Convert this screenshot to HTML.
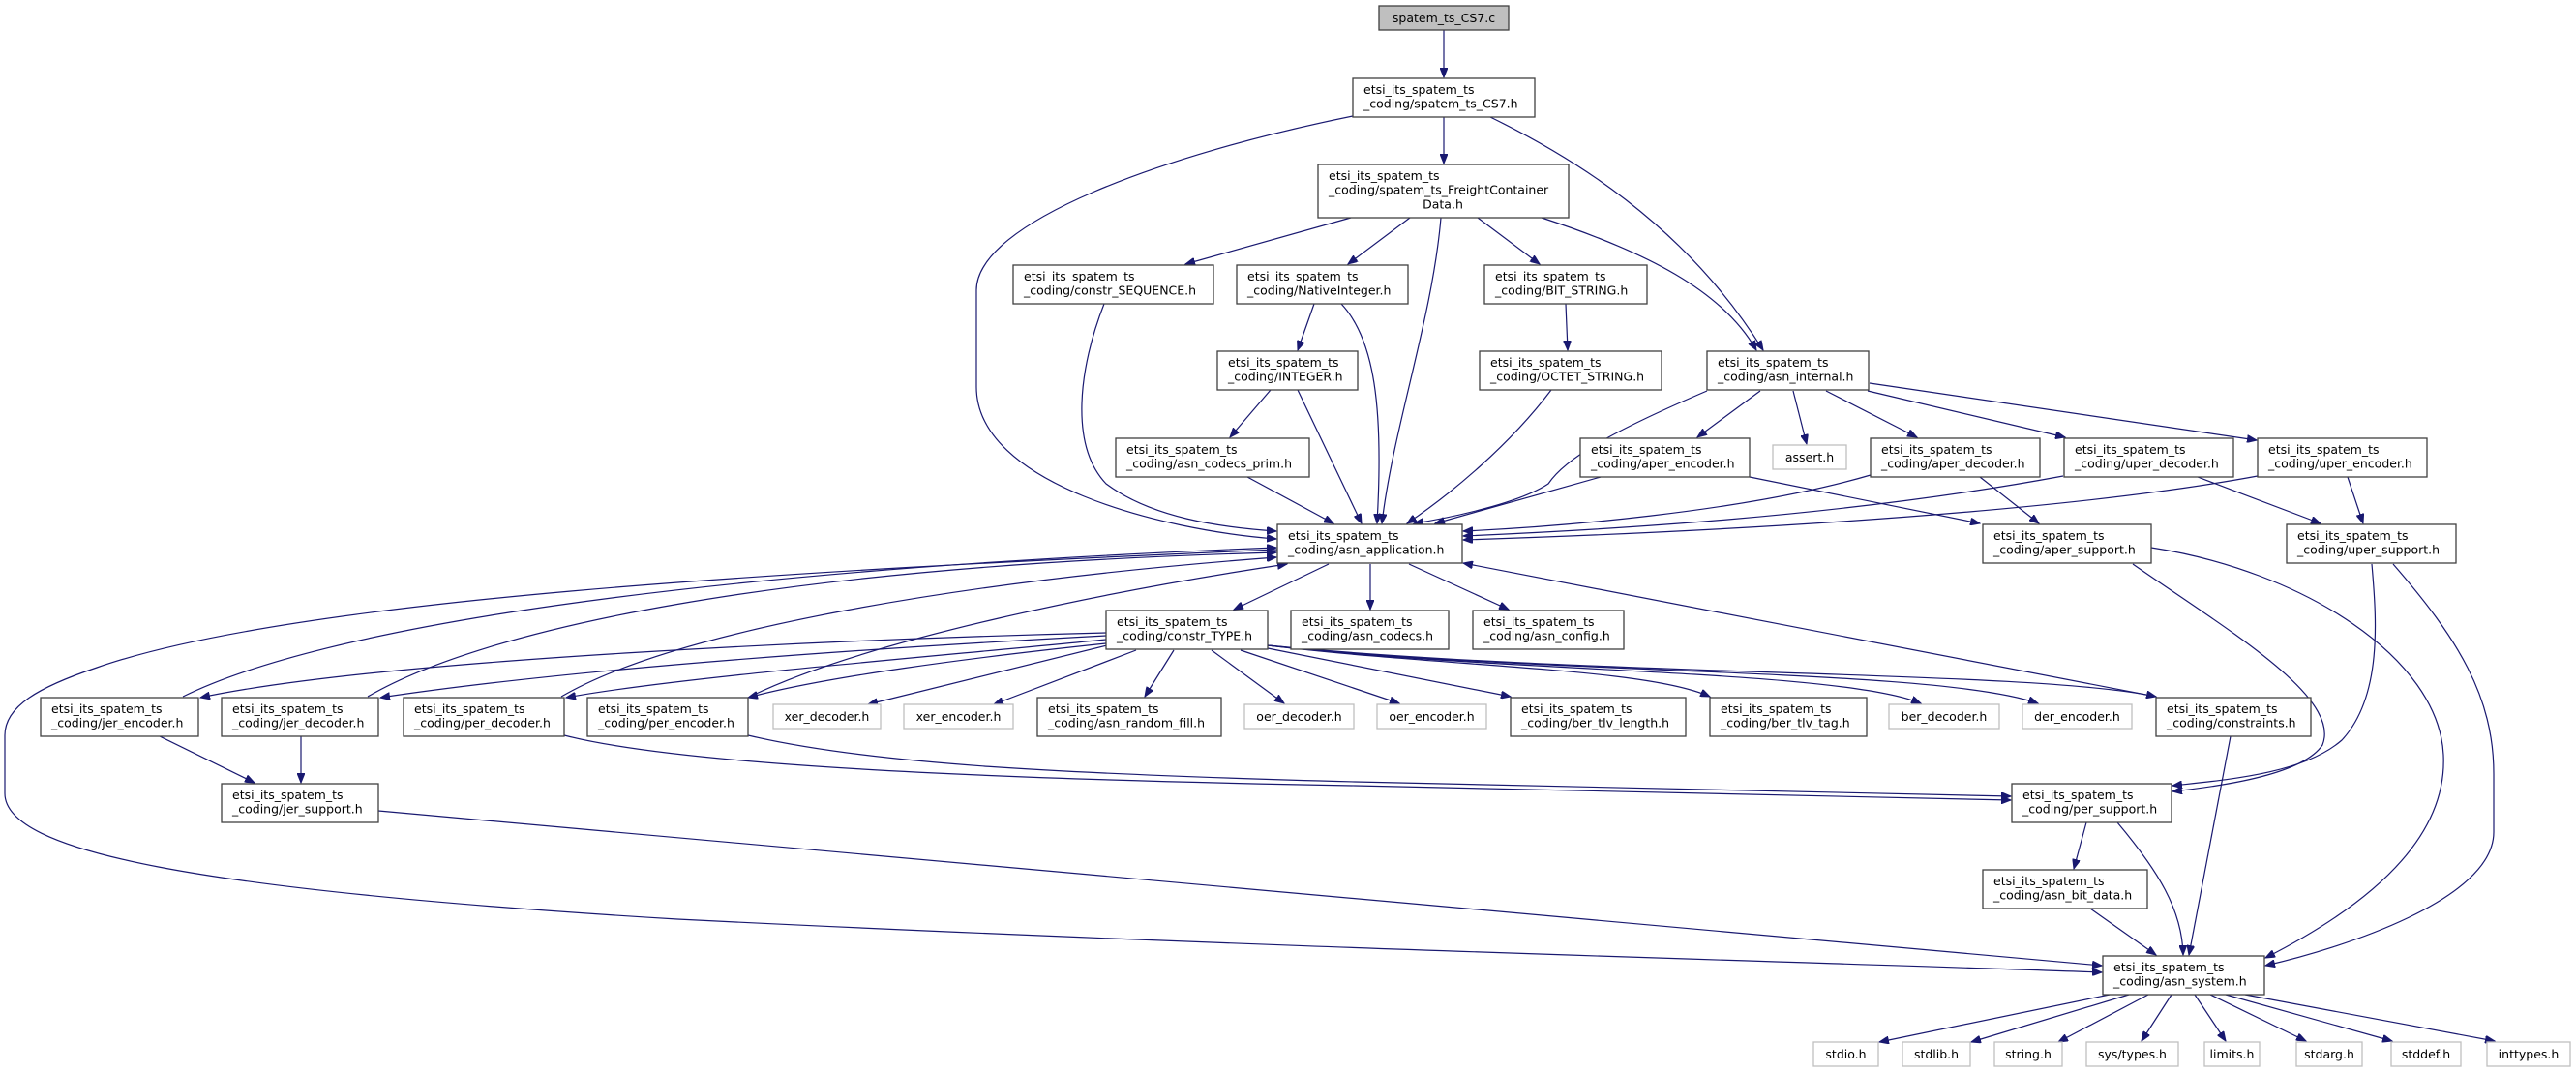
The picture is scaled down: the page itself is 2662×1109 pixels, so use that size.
<!DOCTYPE html>
<html><head><meta charset="utf-8">
<style>
html,body{margin:0;padding:0;background:#fff;}
svg{display:block;}
text{font-family:"DejaVu Sans","Liberation Sans",sans-serif;font-size:12.5px;fill:#000;}
.n{fill:#fff;stroke:#404040;stroke-width:1.3;}
.g{fill:#fff;stroke:#bfbfbf;stroke-width:1.3;}
.e{fill:none;stroke:#191970;stroke-width:1.2;marker-end:url(#a);}
</style></head>
<body>
<svg width="2662" height="1109" viewBox="0 0 2662 1109" xmlns="http://www.w3.org/2000/svg">
<defs>
<marker id="a" markerUnits="userSpaceOnUse" markerWidth="11" markerHeight="8" refX="10" refY="4" orient="auto">
<path d="M0,0 L10,4 L0,8 z" fill="#191970" stroke="#191970"/>
</marker>
</defs>

<!-- edges -->
<path class="e" d="M1492,31 L1492,80"/>
<path class="e" d="M1492,121 L1492,169"/>
<path class="e" d="M1398,120 C1200,160 1009,230 1009,300 L1009,400 C1009,500 1200,548 1319,557"/>
<path class="e" d="M1540,121 C1620,160 1740,230 1822,362"/>
<path class="e" d="M1396,225 L1225,273"/>
<path class="e" d="M1457,225 L1393,273"/>
<path class="e" d="M1489,225 C1480,330 1440,440 1428,541"/>
<path class="e" d="M1527,225 L1591,273"/>
<path class="e" d="M1593,225 C1700,260 1780,300 1815,362"/>
<path class="e" d="M1141,314 C1115,380 1105,460 1143,500 C1190,535 1260,545 1319,549"/>
<path class="e" d="M1358,314 L1341,362"/>
<path class="e" d="M1386,314 C1420,350 1430,420 1423,541"/>
<path class="e" d="M1313,403 L1271,452"/>
<path class="e" d="M1341,403 L1407,541"/>
<path class="e" d="M1289,493 L1378,541"/>
<path class="e" d="M1618,314 L1620,362"/>
<path class="e" d="M1603,403 C1560,460 1500,510 1454,541"/>
<path class="e" d="M1764,404 C1680,440 1620,470 1600,500 C1570,520 1500,535 1461,541"/>
<path class="e" d="M1819,404 L1754,452"/>
<path class="e" d="M1853,404 L1867,459"/>
<path class="e" d="M1887,404 L1981,452"/>
<path class="e" d="M1930,404 L2134,452"/>
<path class="e" d="M1932,396 L2332,455"/>
<path class="e" d="M1654,493 L1483,541"/>
<path class="e" d="M1808,493 L2046,541"/>
<path class="e" d="M1933,491 C1800,530 1600,545 1512,549"/>
<path class="e" d="M2046,493 L2107,541"/>
<path class="e" d="M2132,492 C1900,535 1650,548 1512,554"/>
<path class="e" d="M2271,493 L2398,541"/>
<path class="e" d="M2333,492 C2100,535 1700,552 1512,558"/>
<path class="e" d="M2426,493 L2442,541"/>
<path class="e" d="M1373,583 L1275,630"/>
<path class="e" d="M1416,583 L1416,630"/>
<path class="e" d="M1456,583 L1559,630"/>
<path class="e" d="M2204,583 C2300,650 2420,720 2400,770 C2380,800 2300,812 2245,818"/>
<path class="e" d="M2223,566 C2380,590 2520,680 2525,780 C2530,880 2420,950 2341,990"/>
<path class="e" d="M2451,583 C2456,640 2462,720 2420,765 C2380,800 2300,806 2245,812"/>
<path class="e" d="M2473,583 C2540,660 2577,720 2577,800 L2577,860 C2577,930 2420,980 2341,998"/>
<path class="e" d="M2228,720 L1512,582"/>
<path class="e" d="M2305,761 L2262,987"/>
<path class="e" d="M2156,850 L2143,898"/>
<path class="e" d="M2188,850 C2230,900 2255,940 2256,987"/>
<path class="e" d="M2160,939 L2228,987"/>
<path class="e" d="M2180,1028 L1942,1077"/>
<path class="e" d="M2200,1028 L2037,1077"/>
<path class="e" d="M2220,1028 L2127,1077"/>
<path class="e" d="M2244,1028 L2213,1076"/>
<path class="e" d="M2268,1028 L2300,1076"/>
<path class="e" d="M2284,1028 L2383,1076"/>
<path class="e" d="M2300,1028 L2472,1076"/>
<path class="e" d="M2320,1028 L2578,1076"/>
<!-- left side -->
<path class="e" d="M189,720 C330,650 700,590 1319,566"/>
<path class="e" d="M380,720 C500,650 800,585 1319,571"/>
<path class="e" d="M580,720 C700,650 1000,600 1319,576"/>
<path class="e" d="M777,719 C900,660 1150,610 1330,583"/>
<path class="e" d="M1143,654 C900,660 400,680 207,721"/>
<path class="e" d="M1143,657 C900,670 600,690 393,721"/>
<path class="e" d="M1143,661 C950,680 700,700 585,721"/>
<path class="e" d="M1143,665 C1000,680 850,700 773,721"/>
<path class="e" d="M1152,665 L897,728"/>
<path class="e" d="M1174,672 L1027,728"/>
<path class="e" d="M1213,672 L1183,720"/>
<path class="e" d="M1252,672 L1327,727"/>
<path class="e" d="M1282,672 L1446,727"/>
<path class="e" d="M1310,670 L1561,720"/>
<path class="e" d="M1310,667 C1500,690 1700,690 1767,720"/>
<path class="e" d="M1310,667 C1550,695 1900,692 1985,727"/>
<path class="e" d="M1310,667 C1600,698 2000,690 2106,727"/>
<path class="e" d="M1310,667 C1650,700 2100,692 2228,720"/>
<path class="e" d="M1320,568 C800,590 300,620 100,690 C40,710 5,730 5,760 L5,820 C5,880 200,920 700,950 C1300,980 1900,995 2172,1005"/>
<path class="e" d="M391,838 L2172,998"/>
<path class="e" d="M583,760 C700,790 1000,805 1400,812 C1700,818 1950,825 2078,827"/>
<path class="e" d="M773,760 C900,790 1100,800 1400,808 C1700,815 1950,820 2078,823"/>
<path class="e" d="M165,761 L263,809"/>
<path class="e" d="M311,761 L311,809"/>

<!-- nodes -->
<rect x="1425" y="6" width="134" height="25" fill="#bfbfbf" stroke="#404040" stroke-width="1.3"/>
<text x="1492" y="23" text-anchor="middle">spatem_ts_CS7.c</text>

<rect class="n" x="1398" y="81" width="188" height="40"/>
<text x="1409" y="97">etsi_its_spatem_ts</text><text x="1409" y="111.5">_coding/spatem_ts_CS7.h</text>

<rect class="n" x="1362" y="170" width="259" height="55"/>
<text x="1373" y="186">etsi_its_spatem_ts</text><text x="1373" y="200.5">_coding/spatem_ts_FreightContainer</text><text x="1491" y="215.5" text-anchor="middle">Data.h</text>

<rect class="n" x="1047" y="274" width="207" height="40"/>
<text x="1058" y="290">etsi_its_spatem_ts</text><text x="1058" y="304.5">_coding/constr_SEQUENCE.h</text>
<rect class="n" x="1278" y="274" width="177" height="40"/>
<text x="1289" y="290">etsi_its_spatem_ts</text><text x="1289" y="304.5">_coding/NativeInteger.h</text>
<rect class="n" x="1534" y="274" width="168" height="40"/>
<text x="1545" y="290">etsi_its_spatem_ts</text><text x="1545" y="304.5">_coding/BIT_STRING.h</text>

<rect class="n" x="1258" y="363" width="145" height="40"/>
<text x="1269" y="379">etsi_its_spatem_ts</text><text x="1269" y="393.5">_coding/INTEGER.h</text>
<rect class="n" x="1529" y="363" width="188" height="40"/>
<text x="1540" y="379">etsi_its_spatem_ts</text><text x="1540" y="393.5">_coding/OCTET_STRING.h</text>
<rect class="n" x="1764" y="363" width="167" height="40"/>
<text x="1775" y="379">etsi_its_spatem_ts</text><text x="1775" y="393.5">_coding/asn_internal.h</text>

<rect class="n" x="1153" y="453" width="200" height="40"/>
<text x="1164" y="469">etsi_its_spatem_ts</text><text x="1164" y="483.5">_coding/asn_codecs_prim.h</text>
<rect class="n" x="1633" y="453" width="175" height="40"/>
<text x="1644" y="469">etsi_its_spatem_ts</text><text x="1644" y="483.5">_coding/aper_encoder.h</text>
<rect class="g" x="1832" y="460" width="76" height="25"/>
<text x="1870" y="477" text-anchor="middle">assert.h</text>
<rect class="n" x="1933" y="453" width="175" height="40"/>
<text x="1944" y="469">etsi_its_spatem_ts</text><text x="1944" y="483.5">_coding/aper_decoder.h</text>
<rect class="n" x="2133" y="453" width="175" height="40"/>
<text x="2144" y="469">etsi_its_spatem_ts</text><text x="2144" y="483.5">_coding/uper_decoder.h</text>
<rect class="n" x="2333" y="453" width="175" height="40"/>
<text x="2344" y="469">etsi_its_spatem_ts</text><text x="2344" y="483.5">_coding/uper_encoder.h</text>

<rect class="n" x="1320" y="542" width="191" height="40"/>
<text x="1331" y="558">etsi_its_spatem_ts</text><text x="1331" y="572.5">_coding/asn_application.h</text>
<rect class="n" x="2049" y="542" width="174" height="40"/>
<text x="2060" y="558">etsi_its_spatem_ts</text><text x="2060" y="572.5">_coding/aper_support.h</text>
<rect class="n" x="2363" y="542" width="175" height="40"/>
<text x="2374" y="558">etsi_its_spatem_ts</text><text x="2374" y="572.5">_coding/uper_support.h</text>

<rect class="n" x="1143" y="631" width="167" height="40"/>
<text x="1154" y="647">etsi_its_spatem_ts</text><text x="1154" y="661.5">_coding/constr_TYPE.h</text>
<rect class="n" x="1334" y="631" width="163" height="40"/>
<text x="1345" y="647">etsi_its_spatem_ts</text><text x="1345" y="661.5">_coding/asn_codecs.h</text>
<rect class="n" x="1522" y="631" width="156" height="40"/>
<text x="1533" y="647">etsi_its_spatem_ts</text><text x="1533" y="661.5">_coding/asn_config.h</text>

<rect class="n" x="42" y="721" width="163" height="40"/>
<text x="53" y="737">etsi_its_spatem_ts</text><text x="53" y="751.5">_coding/jer_encoder.h</text>
<rect class="n" x="229" y="721" width="162" height="40"/>
<text x="240" y="737">etsi_its_spatem_ts</text><text x="240" y="751.5">_coding/jer_decoder.h</text>
<rect class="n" x="417" y="721" width="166" height="40"/>
<text x="428" y="737">etsi_its_spatem_ts</text><text x="428" y="751.5">_coding/per_decoder.h</text>
<rect class="n" x="607" y="721" width="166" height="40"/>
<text x="618" y="737">etsi_its_spatem_ts</text><text x="618" y="751.5">_coding/per_encoder.h</text>
<rect class="g" x="799" y="728" width="111" height="25"/>
<text x="854.5" y="745" text-anchor="middle">xer_decoder.h</text>
<rect class="g" x="934" y="728" width="113" height="25"/>
<text x="990.5" y="745" text-anchor="middle">xer_encoder.h</text>
<rect class="n" x="1072" y="721" width="190" height="40"/>
<text x="1083" y="737">etsi_its_spatem_ts</text><text x="1083" y="751.5">_coding/asn_random_fill.h</text>
<rect class="g" x="1286" y="728" width="113" height="25"/>
<text x="1342.5" y="745" text-anchor="middle">oer_decoder.h</text>
<rect class="g" x="1423" y="728" width="113" height="25"/>
<text x="1479.5" y="745" text-anchor="middle">oer_encoder.h</text>
<rect class="n" x="1561" y="721" width="181" height="40"/>
<text x="1572" y="737">etsi_its_spatem_ts</text><text x="1572" y="751.5">_coding/ber_tlv_length.h</text>
<rect class="n" x="1767" y="721" width="162" height="40"/>
<text x="1778" y="737">etsi_its_spatem_ts</text><text x="1778" y="751.5">_coding/ber_tlv_tag.h</text>
<rect class="g" x="1952" y="728" width="114" height="25"/>
<text x="2009" y="745" text-anchor="middle">ber_decoder.h</text>
<rect class="g" x="2090" y="728" width="113" height="25"/>
<text x="2146.5" y="745" text-anchor="middle">der_encoder.h</text>
<rect class="n" x="2228" y="721" width="160" height="40"/>
<text x="2239" y="737">etsi_its_spatem_ts</text><text x="2239" y="751.5">_coding/constraints.h</text>

<rect class="n" x="229" y="810" width="162" height="40"/>
<text x="240" y="826">etsi_its_spatem_ts</text><text x="240" y="840.5">_coding/jer_support.h</text>
<rect class="n" x="2079" y="810" width="165" height="40"/>
<text x="2090" y="826">etsi_its_spatem_ts</text><text x="2090" y="840.5">_coding/per_support.h</text>

<rect class="n" x="2049" y="899" width="170" height="40"/>
<text x="2060" y="915">etsi_its_spatem_ts</text><text x="2060" y="929.5">_coding/asn_bit_data.h</text>

<rect class="n" x="2173" y="988" width="167" height="40"/>
<text x="2184" y="1004">etsi_its_spatem_ts</text><text x="2184" y="1018.5">_coding/asn_system.h</text>

<rect class="g" x="1874" y="1077" width="67" height="25"/><text x="1907.5" y="1094" text-anchor="middle">stdio.h</text>
<rect class="g" x="1966" y="1077" width="70" height="25"/><text x="2001" y="1094" text-anchor="middle">stdlib.h</text>
<rect class="g" x="2061" y="1077" width="70" height="25"/><text x="2096" y="1094" text-anchor="middle">string.h</text>
<rect class="g" x="2156" y="1077" width="95" height="25"/><text x="2203.5" y="1094" text-anchor="middle">sys/types.h</text>
<rect class="g" x="2278" y="1077" width="57" height="25"/><text x="2306.5" y="1094" text-anchor="middle">limits.h</text>
<rect class="g" x="2373" y="1077" width="68" height="25"/><text x="2407" y="1094" text-anchor="middle">stdarg.h</text>
<rect class="g" x="2471" y="1077" width="72" height="25"/><text x="2507" y="1094" text-anchor="middle">stddef.h</text>
<rect class="g" x="2570" y="1077" width="86" height="25"/><text x="2613" y="1094" text-anchor="middle">inttypes.h</text>
</svg>
</body></html>
